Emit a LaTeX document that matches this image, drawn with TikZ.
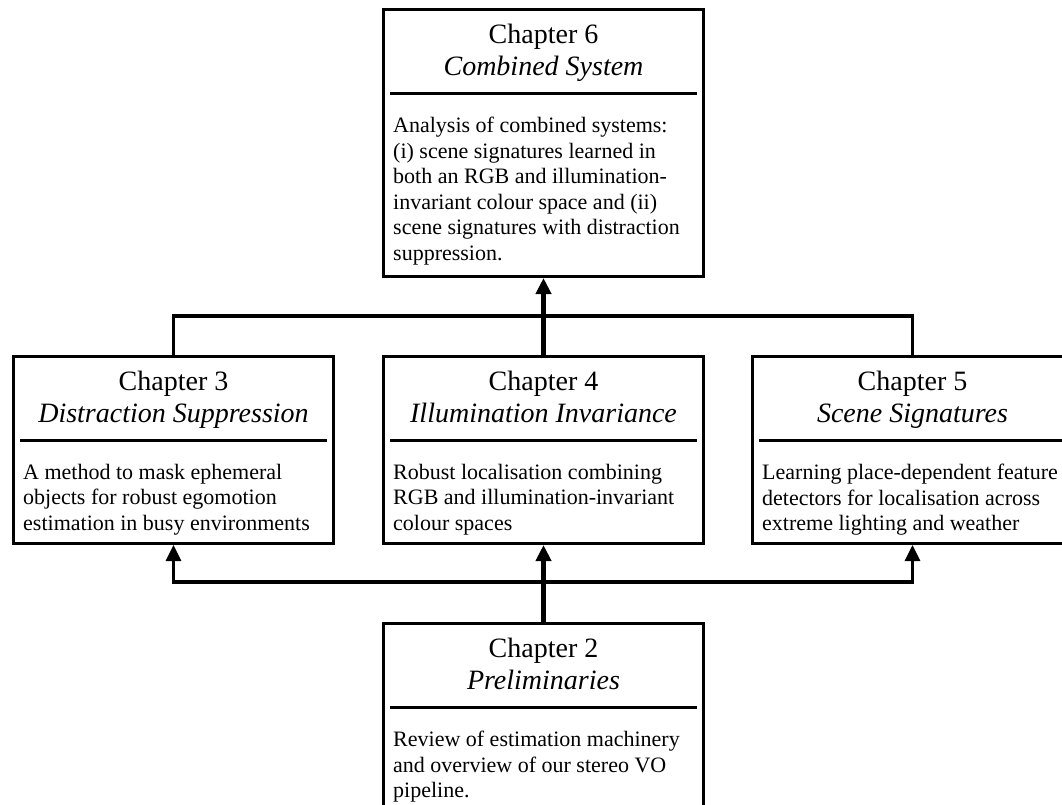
\documentclass[tikz,border=0pt]{standalone}
\usepackage{fontspec}
\setmainfont{Liberation Serif}
\usetikzlibrary{arrows.meta,shadows}
\begin{document}
\begin{tikzpicture}[x=1pt,y=-1pt,
  chbox/.style={draw, line width=3pt, fill=white, minimum width=320pt, inner sep=0pt, anchor=north west,
    drop shadow={shadow xshift=1.2pt, shadow yshift=-1.2pt, opacity=0.3, fill=black}},
  ttl/.style={font=\fontsize{28}{32}\selectfont, anchor=base, inner sep=0pt},
  body/.style={font=\fontsize{22}{25.5}\selectfont, align=left, anchor=north west, inner sep=0pt},
  sepline/.style={line width=3pt},
  conn/.style={line width=3.2pt, line join=miter},
  stem/.style={line width=4.2pt},
  tip/.style={-{Triangle[length=16pt,width=15pt]}},
  tips/.style={{Triangle[length=16pt,width=15pt]}-{Triangle[length=16pt,width=15pt]}}
]
\useasboundingbox (0,0) rectangle (1062,804);

% boxes
\node[chbox, minimum height=267pt] (c6) at (382,8) {};
\node[chbox, minimum height=187pt] (c3) at (12,355) {};
\node[chbox, minimum height=187pt] (c4) at (382,355) {};
\node[chbox, minimum height=187pt] (c5) at (751,355) {};
\node[chbox, minimum height=187pt] (c2) at (382,622) {};

% titles
\node[ttl] (c6a) at ([yshift=-35pt]c6.north) {Chapter 6};
\node[ttl] (c6b) at ([yshift=-67pt]c6.north) {\itshape Combined System};
\node[ttl] (c3a) at ([yshift=-35pt]c3.north) {Chapter 3};
\node[ttl] (c3b) at ([yshift=-67pt]c3.north) {\itshape Distraction Suppression};
\node[ttl] (c4a) at ([yshift=-35pt]c4.north) {Chapter 4};
\node[ttl] (c4b) at ([yshift=-67pt]c4.north) {\itshape Illumination Invariance};
\node[ttl] (c5a) at ([yshift=-35pt]c5.north) {Chapter 5};
\node[ttl] (c5b) at ([yshift=-67pt]c5.north) {\itshape Scene Signatures};
\node[ttl] (c2a) at ([yshift=-35pt]c2.north) {Chapter 2};
\node[ttl] (c2b) at ([yshift=-67pt]c2.north) {\itshape Preliminaries};

% separators
\foreach \b in {c6,c3,c4,c5,c2}{
  \draw[sepline] ([xshift=8pt,yshift=-85pt]\b.north west) -- ([xshift=-8pt,yshift=-85pt]\b.north east);
}

% bodies
\node[body] (c6c) at ([xshift=11pt,yshift=-109pt]c6.north west) {Analysis of combined systems:\\(i) scene signatures learned in\\both an RGB and illumination-\\invariant colour space and (ii)\\scene signatures with distraction\\suppression.};
\node[body] (c3c) at ([xshift=11pt,yshift=-109pt]c3.north west) {A method to mask ephemeral\\objects for robust egomotion\\estimation in busy environments};
\node[body] (c4c) at ([xshift=11pt,yshift=-109pt]c4.north west) {Robust localisation combining\\RGB and illumination-invariant\\colour spaces};
\node[body] (c5c) at ([xshift=11pt,yshift=-109pt]c5.north west) {Learning place-dependent feature\\detectors for localisation across\\extreme lighting and weather};
\node[body] (c2c) at ([xshift=11pt,yshift=-109pt]c2.north west) {Review of estimation machinery\\and overview of our stereo VO\\pipeline.};

% connectors
\coordinate (top) at (542,316);
\coordinate (bot) at (542,582);
\draw[conn] (c3.north) -- (c3.north |- top) -- (c5.north |- top) -- (c5.north);
\draw[stem, tip] (c4.north) -- (c6.south);
\draw[conn, tips] (c3.south) -- (c3.south |- bot) -- (c5.south |- bot) -- (c5.south);
\draw[stem, tip] (c2.north) -- (c4.south);
\end{tikzpicture}
\end{document}
